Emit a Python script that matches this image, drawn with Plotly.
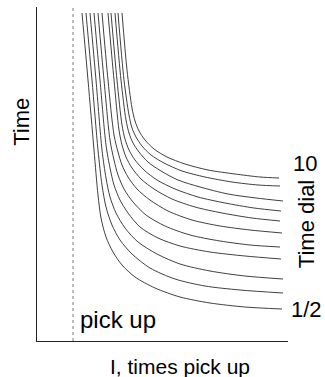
import plotly.graph_objects as go

# Time-dial curves (index 0 = dial 1/2 ... index 10 = dial 10); x: I (times pick up), y: Time (arbitrary units)
dial_labels = ["1/2", "1", "2", "3", "4", "5", "6", "7", "8", "9", "10"]

curve_x = [
    [45, 51, 57, 61, 64, 69, 76, 85, 98, 118, 143, 173, 208, 245],
    [49, 55, 61, 65, 69, 75, 83, 95, 113, 138, 168, 203, 246],
    [53, 59, 65, 69, 73, 79, 88, 101, 120, 143, 173, 208, 246],
    [57, 63, 69, 73, 77, 83, 91, 103, 121, 143, 173, 208, 244],
    [61, 67, 73, 77, 81, 87, 96, 109, 128, 153, 183, 213, 243],
    [65, 71, 77, 81, 85, 91, 100, 113, 131, 155, 183, 213, 245],
    [71, 77, 82, 85, 89, 95, 104, 117, 135, 158, 185, 215, 243],
    [74, 80, 85, 88, 92, 98, 107, 120, 138, 161, 188, 217, 244],
    [78, 84, 89, 92, 96, 102, 111, 124, 141, 163, 191, 219, 246],
    [81, 87, 92, 95, 99, 105, 114, 127, 145, 168, 195, 221, 243],
    [85, 90, 95, 98, 102, 108, 117, 130, 148, 171, 198, 223, 242],
]
curve_y = [
    [328, 261, 191, 146, 123, 104, 89, 76, 64, 53, 44, 38, 34, 32],
    [328, 261, 191, 156, 134, 116, 101, 87, 73, 62, 55, 51, 48],
    [328, 261, 191, 163, 144, 128, 113, 99, 87, 77, 70, 65, 62],
    [328, 261, 196, 173, 156, 141, 128, 114, 103, 95, 89, 85, 82],
    [328, 261, 201, 181, 166, 152, 139, 126, 115, 106, 100, 96, 94],
    [328, 261, 206, 189, 176, 164, 152, 141, 130, 121, 115, 111, 108],
    [328, 261, 211, 196, 184, 173, 162, 152, 142, 134, 128, 123, 120],
    [328, 261, 216, 202, 191, 181, 171, 161, 152, 144, 138, 133, 130],
    [328, 261, 221, 208, 198, 189, 179, 170, 161, 154, 147, 143, 140],
    [328, 261, 226, 213, 204, 195, 186, 178, 170, 164, 159, 156, 155],
    [328, 271, 233, 220, 210, 201, 192, 184, 177, 171, 167, 164, 163],
]

pickup_x = [36, 36]
pickup_y = [0, 334]

x_range = [0, 251]
y_range = [0, 334]

fig = go.Figure()

fig.add_trace(go.Scatter(
    x=pickup_x, y=pickup_y, mode="lines",
    line=dict(color="#777777", width=1, dash="dot"),
    hoverinfo="skip", showlegend=False,
))

for lab, xs, ys in zip(dial_labels, curve_x, curve_y):
    fig.add_trace(go.Scatter(
        x=xs, y=ys, mode="lines", name=lab,
        line=dict(color="#2a2a2a", width=0.9, shape="spline", smoothing=0.8),
        showlegend=False,
    ))

font = dict(family="Liberation Sans, Arial, sans-serif", color="black")

annotations = [
    dict(text="Time", x=-0.06, y=0.656, textangle=-90, size=22),
    dict(text="Time dial", x=1.072, y=0.350, textangle=-90, size=22),
    dict(text="10", x=1.068, y=0.530, textangle=0, size=22),
    dict(text="1/2", x=1.072, y=0.093, textangle=0, size=22),
    dict(text="pick up", x=0.323, y=0.063, textangle=0, size=24),
    dict(text="I, times pick up", x=0.570, y=-0.075, textangle=0, size=21),
]
fig.update_layout(annotations=[
    dict(text=a["text"], x=a["x"], y=a["y"], xref="paper", yref="paper",
         xanchor="center", yanchor="middle", showarrow=False,
         textangle=a["textangle"], font=dict(size=a["size"], **font))
    for a in annotations
])

axis_common = dict(showgrid=False, zeroline=False, showticklabels=False,
                   ticks="", showline=True, linecolor="#222222", linewidth=1.4)
fig.update_xaxes(range=x_range, **axis_common)
fig.update_yaxes(range=y_range, **axis_common)

fig.update_layout(
    width=325, height=377,
    margin=dict(l=37, r=37, t=7, b=36),
    plot_bgcolor="white", paper_bgcolor="white",
)

fig.write_html("out.html", config={"displayModeBar": False},
               post_script="document.body.style.margin='0';document.body.style.overflow='hidden';")
